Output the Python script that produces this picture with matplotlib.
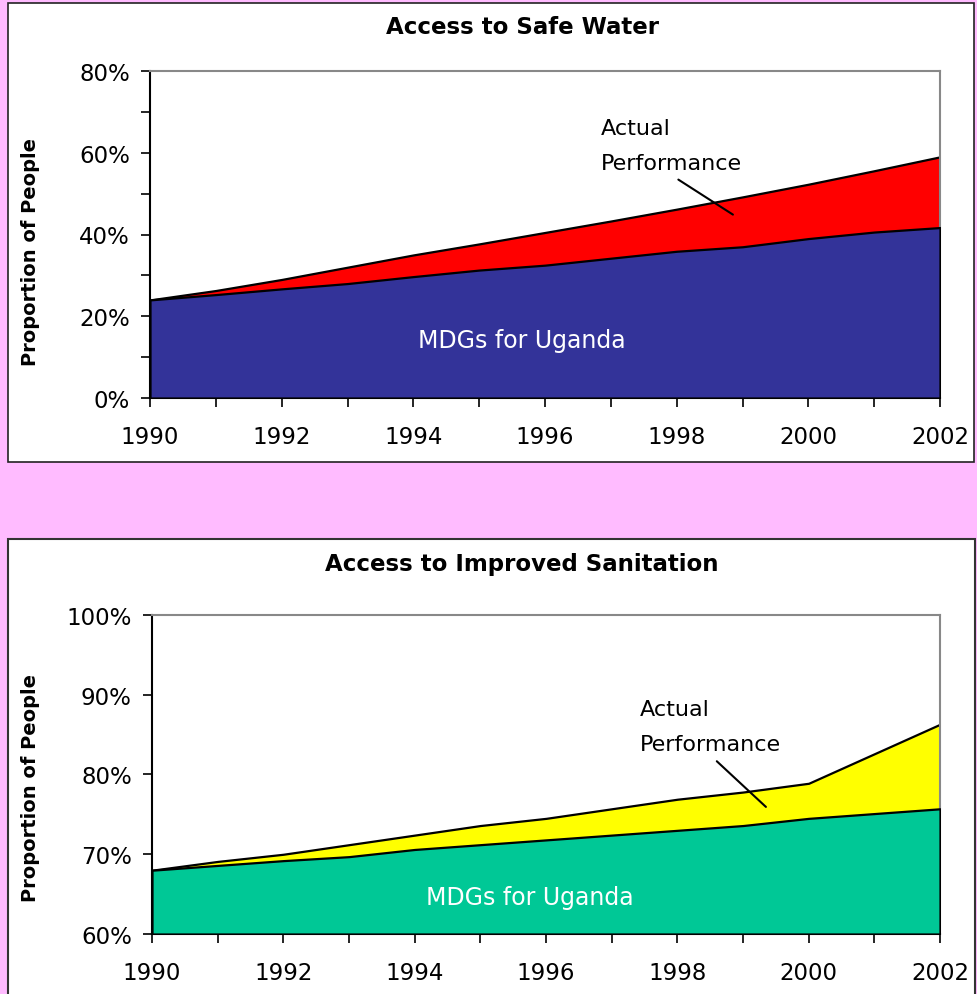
import matplotlib
matplotlib.use("Agg")
import matplotlib.pyplot as plt
from matplotlib.patches import Rectangle
from matplotlib.ticker import PercentFormatter, MultipleLocator

years = list(range(1990, 2003))

# Access to safe water (%)
water_mdg = [24.0, 25.3, 26.7, 28.0, 29.7, 31.3, 32.5, 34.2, 35.9, 37.0, 39.0, 40.6, 41.7]
water_actual = [24.0, 26.3, 29.0, 32.0, 35.0, 37.7, 40.5, 43.3, 46.2, 49.2, 52.3, 55.6, 59.0]

# Access to improved sanitation (%)
san_mdg = [68.0, 68.6, 69.2, 69.7, 70.6, 71.2, 71.8, 72.4, 73.0, 73.6, 74.5, 75.1, 75.7]
san_actual = [68.0, 69.1, 70.0, 71.2, 72.4, 73.6, 74.5, 75.7, 76.9, 77.8, 78.9, 82.6, 86.3]

W, H = 977, 995
fig = plt.figure(figsize=(W / 100, H / 100), dpi=100)
fig.patch.set_facecolor("#FFBBFF")
plt.rcParams['font.family'] = ['DejaVu Sans']

# white panels
fig.patches.append(Rectangle((8 / W, 1 - 463 / H), 966 / W, 459 / H, transform=fig.transFigure,
                             facecolor="white", edgecolor="#222222", linewidth=1.2, zorder=-5))
fig.patches.append(Rectangle((8 / W, -0.01), 967 / W, 1 - 540 / H + 0.01, transform=fig.transFigure,
                             facecolor="white", edgecolor="#333333", linewidth=1.5, zorder=-5))


def draw(ax, mdg, actual, ylim, major, minor, mdg_color, act_color,
         act_pos, perf_y, line_from, line_to, mdg_xy):
    base = ylim[0]
    ax.fill_between(years, base, actual, facecolor=act_color, edgecolor="black", linewidth=1.6, zorder=2)
    ax.fill_between(years, base, mdg, facecolor=mdg_color, edgecolor="black", linewidth=1.6, zorder=3)
    ax.set_xlim(1990, 2002)
    ax.set_ylim(*ylim)
    ax.set_facecolor("white")
    ax.yaxis.set_major_locator(MultipleLocator(major))
    ax.yaxis.set_minor_locator(MultipleLocator(minor))
    ax.yaxis.set_major_formatter(PercentFormatter(xmax=100, decimals=0))
    ax.set_xticks(range(1990, 2003, 2))
    ax.set_xticks(range(1990, 2003), minor=True)
    ax.tick_params(axis="both", which="both", direction="out", length=6.5, width=1.2, color="black")
    ax.tick_params(axis="both", which="major", labelsize=16.5)
    ax.tick_params(axis="x", pad=13)
    ax.tick_params(axis="y", pad=8)
    for s in ["top", "right"]:
        ax.spines[s].set_color("#888888")
        ax.spines[s].set_linewidth(1.5)
    for s in ["left", "bottom"]:
        ax.spines[s].set_color("black")
        ax.spines[s].set_linewidth(1.5)
    ax.text(act_pos[0], act_pos[1], "Actual", fontsize=16, ha="left", va="baseline", zorder=5)
    ax.text(act_pos[0], perf_y, "Performance", fontsize=16, ha="left", va="baseline", zorder=5)
    ax.annotate("", xy=line_to, xytext=line_from,
                arrowprops=dict(arrowstyle="-", color="black", linewidth=1.5), zorder=5)
    ax.text(mdg_xy[0], mdg_xy[1], "MDGs for Uganda", fontsize=17, color="white",
            ha="center", va="baseline", zorder=5)


ax1 = fig.add_axes([150 / W, 1 - 399 / H, 790 / W, 327 / H])
draw(ax1, water_mdg, water_actual, (0, 80), 20, 10, "#333399", "#FF0000",
     (1996.85, 64.6), 56.0, (1997.99, 53.8), (1998.89, 44.5), (1995.65, 12.5))

ax2 = fig.add_axes([152 / W, 1 - 935 / H, 788 / W, 319 / H])
draw(ax2, san_mdg, san_actual, (60, 100), 10, 10, "#00C896", "#FFFF00",
     (1997.43, 87.45), 83.1, (1998.57, 81.9), (1999.38, 75.7), (1995.76, 63.75))

fig.text(522 / W, 1 - 28 / H, "Access to Safe Water", fontsize=16.5, fontweight="bold",
         ha="center", va="center")
fig.text(522 / W, 1 - 565 / H, "Access to Improved Sanitation", fontsize=16.5, fontweight="bold",
         ha="center", va="center")
fig.text(31 / W, 1 - 252 / H, "Proportion of People", fontsize=14, fontweight="bold",
         rotation=90, ha="center", va="center")
fig.text(31 / W, 1 - 788 / H, "Proportion of People", fontsize=14, fontweight="bold",
         rotation=90, ha="center", va="center")

fig.savefig("out.png", dpi=100, facecolor=fig.get_facecolor())
